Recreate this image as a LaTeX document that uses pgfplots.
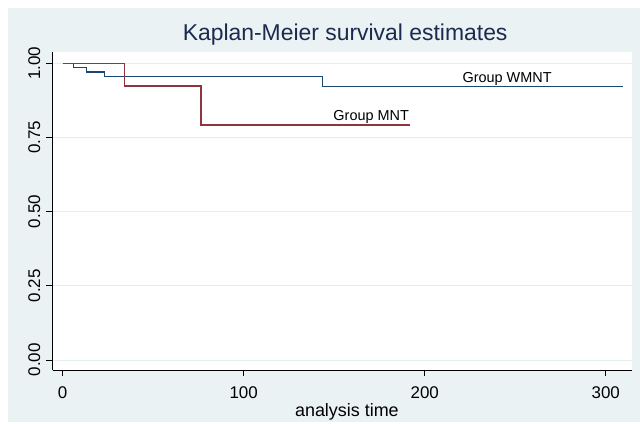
\documentclass[border=0pt]{standalone}
\usepackage{fontspec}
\setmainfont{Liberation Sans}
\usepackage{pgfplots}
\pgfplotsset{compat=1.18}
\definecolor{bgc}{RGB}{234,242,243}
\definecolor{gridc}{RGB}{228,237,239}
\definecolor{navyc}{RGB}{26,71,111}
\definecolor{maroonc}{RGB}{144,53,59}
\definecolor{titlec}{RGB}{28,42,80}
\begin{document}
\begin{tikzpicture}
\useasboundingbox (-52.5bp,-54bp) rectangle (587.5bp,370bp);
\fill[bgc] (-44.5bp,-52bp) rectangle (587.5bp,362bp);
\begin{axis}[
  at={(0,0)}, anchor=south west,
  scale only axis, width=579.5bp, height=317.5bp,
  xmin=-5.6, xmax=314.5, ymin=-0.034, ymax=1.036,
  axis x line*=bottom, axis y line*=left,
  axis line style={-, black, line width=0.8bp},
  axis background/.style={fill=white},
  tick align=outside, major tick length=6bp,
  tick style={black, line width=0.8bp},
  xtick={0,100,200,300},
  ytick={0,0.25,0.5,0.75,1},
  ymajorgrids, grid style={gridc, line width=0.8bp},
  /pgf/number format/assume math mode=true,
  yticklabel={\pgfmathprintnumber[fixed,fixed zerofill,precision=2]{\tick}},
  ticklabel style={font=\fontsize{17}{20}\selectfont},
  yticklabel style={rotate=90, anchor=south, inner sep=0pt, yshift=6bp},
  xticklabel style={anchor=north, inner sep=0pt, yshift=-10bp},
  title={Kaplan-Meier survival estimates},
  title style={at={(axis description cs:0.505,1)}, anchor=base, yshift=6.5bp, inner sep=0pt, font=\fontsize{23}{26}\selectfont, text=titlec},
  xlabel={analysis time},
  xlabel style={at={(axis description cs:0.508,0)}, anchor=base, yshift=-46.7bp, inner sep=0pt, font=\fontsize{18}{21}\selectfont},
  clip=false,
]
\addplot[const plot, navyc, line width=1.35bp] coordinates {
  (0,1) (5.9,0.9853) (13.3,0.9706) (23,0.9559) (143.4,0.9205) (309.4,0.9205)
};
\addplot[const plot, maroonc, line width=1.35bp] coordinates {
  (0,1) (34,0.9231) (76.4,0.7912) (191.9,0.7912)
};
\node[anchor=base west, inner sep=0pt, font=\fontsize{14.5}{17}\selectfont] at (axis cs:220.8,0.9346) {Group WMNT};
\node[anchor=base west, inner sep=0pt, font=\fontsize{14.5}{17}\selectfont] at (axis cs:149.5,0.8065) {Group MNT};
\end{axis}
\end{tikzpicture}
\end{document}
